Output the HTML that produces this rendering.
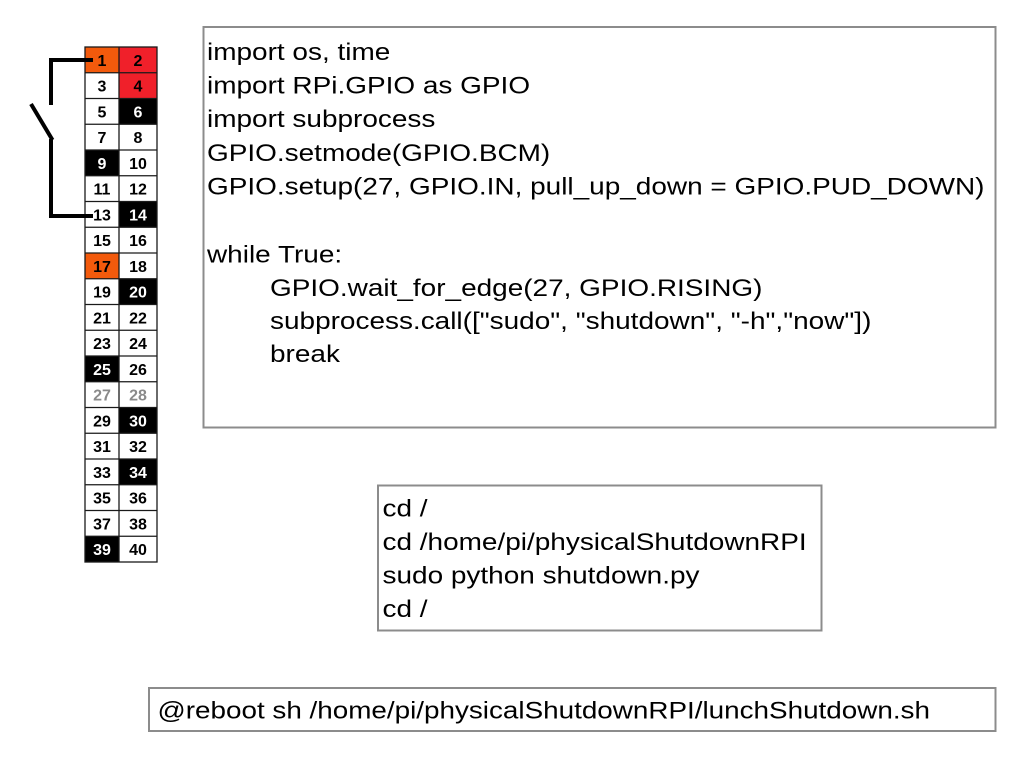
<!DOCTYPE html>
<html>
<head>
<meta charset="utf-8">
<style>
html,body{margin:0;padding:0;background:#fff;}
body{width:1024px;height:768px;overflow:hidden;}
svg{display:block;}
.code{font-family:"Liberation Sans",Arial,Helvetica,sans-serif;font-size:24px;fill:#000;}
.pin{font-family:"Liberation Sans",Arial,sans-serif;font-size:16px;font-weight:bold;text-anchor:middle;}
</style>
</head>
<body>
<svg width="1024" height="768" viewBox="0 0 1024 768" xmlns="http://www.w3.org/2000/svg">
<rect x="0" y="0" width="1024" height="768" fill="#fff"/>

<!-- Code box -->
<rect x="203.5" y="27" width="792" height="400.5" fill="#fff" stroke="#8c8c8c" stroke-width="2"/>
<g class="code">
<text transform="translate(207,60) scale(1.165,1)">import os, time</text>
<text transform="translate(207,93.6) scale(1.165,1)">import RPi.GPIO as GPIO</text>
<text transform="translate(207,127.2) scale(1.165,1)">import subprocess</text>
<text transform="translate(207,160.8) scale(1.165,1)">GPIO.setmode(GPIO.BCM)</text>
<text transform="translate(207,194.4) scale(1.165,1)">GPIO.setup(27, GPIO.IN, pull_up_down = GPIO.PUD_DOWN)</text>
<text transform="translate(207,262.5) scale(1.165,1)">while True:</text>
<text transform="translate(270,296) scale(1.165,1)">GPIO.wait_for_edge(27, GPIO.RISING)</text>
<text transform="translate(270,329) scale(1.165,1)">subprocess.call(["sudo", "shutdown", "-h","now"])</text>
<text transform="translate(270,362) scale(1.165,1)">break</text>
</g>

<!-- Script box -->
<rect x="378" y="485.5" width="443.5" height="145" fill="#fff" stroke="#8c8c8c" stroke-width="2"/>
<g class="code">
<text transform="translate(382.5,516.5) scale(1.165,1)">cd /</text>
<text transform="translate(382.5,550) scale(1.165,1)">cd /home/pi/physicalShutdownRPI</text>
<text transform="translate(382.5,583.5) scale(1.165,1)">sudo python shutdown.py</text>
<text transform="translate(382.5,617) scale(1.165,1)">cd /</text>
</g>

<!-- Cron box -->
<rect x="149" y="688" width="846.5" height="43" fill="#fff" stroke="#8c8c8c" stroke-width="2"/>
<g class="code">
<text transform="translate(157.5,718.5) scale(1.16,1)">@reboot sh /home/pi/physicalShutdownRPI/lunchShutdown.sh</text>
</g>

<!-- GPIO header -->
<g id="header">
<rect x="85" y="47" width="34" height="25.75" fill="#f35a0c"/>
<rect x="119" y="47" width="38" height="25.75" fill="#f0202a"/>
<rect x="119" y="72.75" width="38" height="25.75" fill="#f0202a"/>
<rect x="119" y="98.5" width="38" height="25.75" fill="#000"/>
<rect x="85" y="150" width="34" height="25.75" fill="#000"/>
<rect x="119" y="201.5" width="38" height="25.75" fill="#000"/>
<rect x="85" y="253" width="34" height="25.75" fill="#f35a0c"/>
<rect x="119" y="278.75" width="38" height="25.75" fill="#000"/>
<rect x="85" y="356" width="34" height="25.75" fill="#000"/>
<rect x="119" y="407.5" width="38" height="25.75" fill="#000"/>
<rect x="119" y="459" width="38" height="25.75" fill="#000"/>
<rect x="85" y="536.25" width="34" height="25.75" fill="#000"/>

<g stroke="#1a1a1a" stroke-width="1.3" fill="none">
<rect x="85" y="47" width="72" height="515"/>
<line x1="119" y1="47" x2="119" y2="562"/>
<line x1="85" y1="72.75" x2="157" y2="72.75"/>
<line x1="85" y1="98.5" x2="157" y2="98.5"/>
<line x1="85" y1="124.25" x2="157" y2="124.25"/>
<line x1="85" y1="150" x2="157" y2="150"/>
<line x1="85" y1="175.75" x2="157" y2="175.75"/>
<line x1="85" y1="201.5" x2="157" y2="201.5"/>
<line x1="85" y1="227.25" x2="157" y2="227.25"/>
<line x1="85" y1="253" x2="157" y2="253"/>
<line x1="85" y1="278.75" x2="157" y2="278.75"/>
<line x1="85" y1="304.5" x2="157" y2="304.5"/>
<line x1="85" y1="330.25" x2="157" y2="330.25"/>
<line x1="85" y1="356" x2="157" y2="356"/>
<line x1="85" y1="381.75" x2="157" y2="381.75"/>
<line x1="85" y1="407.5" x2="157" y2="407.5"/>
<line x1="85" y1="433.25" x2="157" y2="433.25"/>
<line x1="85" y1="459" x2="157" y2="459"/>
<line x1="85" y1="484.75" x2="157" y2="484.75"/>
<line x1="85" y1="510.5" x2="157" y2="510.5"/>
<line x1="85" y1="536.25" x2="157" y2="536.25"/>
</g>

<g class="pin" fill="#000">
<text x="102" y="65.8">1</text><text x="138" y="65.8">2</text>
<text x="102" y="91.5">3</text><text x="138" y="91.5">4</text>
<text x="102" y="117.3">5</text><text x="138" y="117.3" fill="#fff">6</text>
<text x="102" y="143">7</text><text x="138" y="143">8</text>
<text x="102" y="168.8" fill="#fff">9</text><text x="138" y="168.8">10</text>
<text x="102" y="194.5">11</text><text x="138" y="194.5">12</text>
<text x="102" y="220.3">13</text><text x="138" y="220.3" fill="#fff">14</text>
<text x="102" y="246">15</text><text x="138" y="246">16</text>
<text x="102" y="271.8">17</text><text x="138" y="271.8">18</text>
<text x="102" y="297.5">19</text><text x="138" y="297.5" fill="#fff">20</text>
<text x="102" y="323.3">21</text><text x="138" y="323.3">22</text>
<text x="102" y="349">23</text><text x="138" y="349">24</text>
<text x="102" y="374.8" fill="#fff">25</text><text x="138" y="374.8">26</text>
<text x="102" y="400.5" fill="#8a8a8a">27</text><text x="138" y="400.5" fill="#8a8a8a">28</text>
<text x="102" y="426.3">29</text><text x="138" y="426.3" fill="#fff">30</text>
<text x="102" y="452">31</text><text x="138" y="452">32</text>
<text x="102" y="477.8">33</text><text x="138" y="477.8" fill="#fff">34</text>
<text x="102" y="503.5">35</text><text x="138" y="503.5">36</text>
<text x="102" y="529.3">37</text><text x="138" y="529.3">38</text>
<text x="102" y="555" fill="#fff">39</text><text x="138" y="555">40</text>
</g>
</g>

<!-- Switch wiring -->
<g stroke="#000" stroke-width="4" fill="none" stroke-linecap="butt">
<polyline points="93,60 51,60 51,105"/>
<line x1="31" y1="104" x2="52.5" y2="140"/>
<polyline points="51,139 51,216 93,216"/>
</g>
</svg>
</body>
</html>
